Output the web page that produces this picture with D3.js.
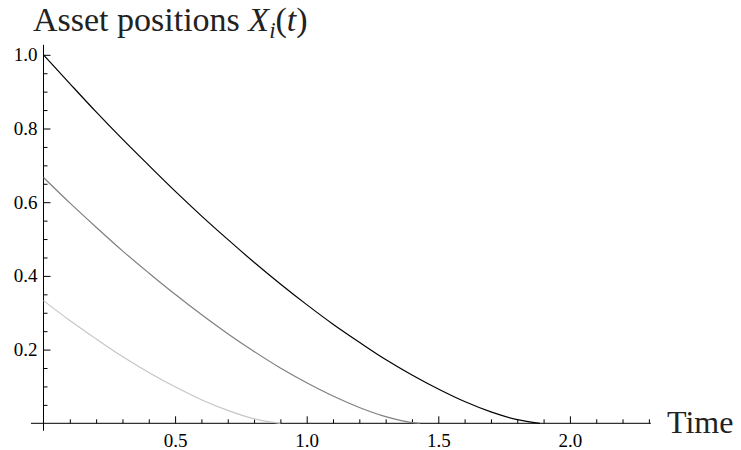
<!DOCTYPE html>
<meta charset="utf-8">
<style>
body { margin: 0; background: #fff; }
.curve { fill: none; stroke-width: 1.2px; }
.tick line { stroke: #000; }
</style>
<body>
<script src="https://d3js.org/d3.v7.min.js"></script>
<script>

// time grid (shared by the three assets)
var times = [0, 0.1, 0.2, 0.3, 0.4, 0.5, 0.6, 0.7, 0.8, 0.9, 1.0, 1.1, 1.2, 1.3, 1.4, 1.5, 1.6, 1.7, 1.8, 1.886];

// asset positions
var asset1 = [1.000, 0.922, 0.845, 0.771, 0.700, 0.630, 0.563, 0.499, 0.437, 0.378,
              0.322, 0.269, 0.220, 0.173, 0.131, 0.093, 0.059, 0.031, 0.010, 0];
var asset2 = [0.667, 0.598, 0.532, 0.468, 0.408, 0.350, 0.295, 0.243, 0.195, 0.150,
              0.110, 0.074, 0.043, 0.018, 0.002];
var asset2End = 1.43;
var asset3 = [0.333, 0.279, 0.229, 0.181, 0.138, 0.099, 0.064, 0.035, 0.012];
var asset3End = 0.9;

var xMajor = [0.5, 1.0, 1.5, 2.0];
var yMajor = [0.2, 0.4, 0.6, 0.8, 1.0];

var width = 741, height = 450;
var serif = "Liberation Serif, Times New Roman, serif";

var svg = d3.select("body").append("svg")
    .attr("width", width)
    .attr("height", height);

var x = d3.scaleLinear().domain([0, 2.3]).range([43.5, 43.5 + 263.2 * 2.3]);
var y = d3.scaleLinear().domain([0, 1]).range([423.3, 54.8]);

// build the series
function series(vals, endT) {
    var pts = vals.map(function(v, i) { return {t: times[i], v: v}; });
    if (endT !== undefined) pts.push({t: endT, v: 0});
    return pts;
}
var data = [
    {pts: series(asset3, asset3End), color: "#c6c6c6"},
    {pts: series(asset2, asset2End), color: "#7f7f7f"},
    {pts: series(asset1), color: "#000000"}
];

var line = d3.line()
    .x(function(d) { return x(d.t); })
    .y(function(d) { return y(d.v); })
    .curve(d3.curveMonotoneX);

// minor ticks
var xMinor = d3.range(1, 24).map(function(i) { return i / 10; })
    .filter(function(v) { return Math.abs(v * 2 - Math.round(v * 2)) > 1e-6; });
var yMinor = d3.range(1, 21).map(function(i) { return i / 20; })
    .filter(function(v) { return Math.abs(v * 5 - Math.round(v * 5)) > 1e-6; });

function styleAxis(g) {
    g.select(".domain").remove();
    g.attr("font-family", serif).attr("font-size", 19);
    g.selectAll("text")
        .attr("font-family", serif)
        .attr("font-size", 19)
        .attr("fill", "#000");
}

svg.append("g")
    .attr("transform", "translate(0," + y(0) + ")")
    .call(d3.axisBottom(x).tickValues(xMinor).tickSize(-4).tickFormat(""))
    .call(styleAxis);
svg.append("g")
    .attr("transform", "translate(0," + y(0) + ")")
    .call(d3.axisBottom(x).tickValues(xMajor).tickSize(-7).tickPadding(10).tickFormat(d3.format(".1f")))
    .call(styleAxis);

svg.append("g")
    .attr("transform", "translate(" + x(0) + ",0)")
    .call(d3.axisLeft(y).tickValues(yMinor).tickSize(-4).tickFormat(""))
    .call(styleAxis);
svg.append("g")
    .attr("transform", "translate(" + x(0) + ",0)")
    .call(d3.axisLeft(y).tickValues(yMajor).tickSize(-7).tickPadding(6).tickFormat(d3.format(".1f")))
    .call(styleAxis);

// axis lines
svg.append("line")
    .attr("x1", x(0) - 12.5).attr("x2", x(2.3) + 2)
    .attr("y1", y(0)).attr("y2", y(0))
    .attr("stroke", "#000");
svg.append("line")
    .attr("x1", x(0)).attr("x2", x(0))
    .attr("y1", y(0) + 7.5).attr("y2", y(1) - 10)
    .attr("stroke", "#000");

// curves
svg.selectAll(".curve")
    .data(data)
  .enter().append("path")
    .attr("class", "curve")
    .attr("stroke", function(d) { return d.color; })
    .attr("d", function(d) { return line(d.pts); });

// title
var title = svg.append("text")
    .attr("x", 33)
    .attr("y", 31)
    .attr("font-family", serif)
    .attr("font-size", 34)
    .attr("fill", "#222");
title.append("tspan").text("Asset positions ");
title.append("tspan").attr("font-style", "italic").text("X");
title.append("tspan").attr("font-style", "italic").attr("font-size", 23).attr("dy", 7).text("i");
title.append("tspan").attr("dy", -7).text("(");
title.append("tspan").attr("font-style", "italic").text("t");
title.append("tspan").text(")");

// x axis label
svg.append("text")
    .attr("x", 667)
    .attr("y", 433)
    .attr("font-family", serif)
    .attr("font-size", 32)
    .attr("fill", "#222")
    .text("Time");

</script>
</body>
